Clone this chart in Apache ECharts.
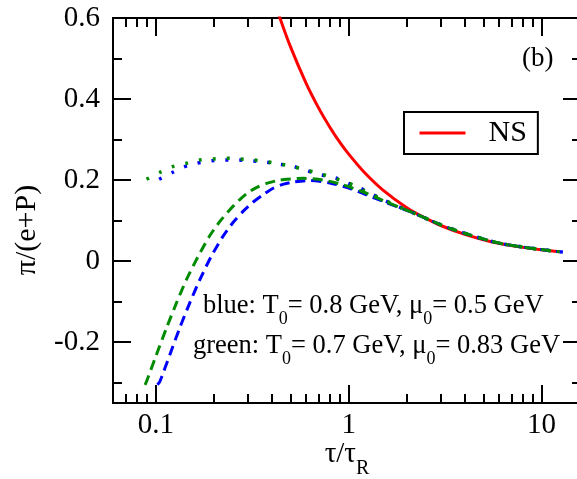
<!DOCTYPE html>
<html>
<head>
<meta charset="utf-8">
<script src="https://cdn.jsdelivr.net/npm/echarts@6/dist/echarts.min.js"></script>
<style>
  html, body { margin: 0; padding: 0; background: #fff; }
  #chart { width: 577px; height: 479px; }
</style>
</head>
<body>
<div id="chart"></div>
<script>
const FONT = '"Liberation Serif", "DejaVu Serif", "Times New Roman", serif';

// Axis ranges and ticks
const xRange = [0.06, 16];
const xMajorTicks = [0.1, 1, 10];
const xTickLabels = ['0.1', '1', '10'];
const xMinorTicks = [0.07, 0.08, 0.09, 0.2, 0.3, 0.4, 0.5, 0.6, 0.7, 0.8, 0.9, 2, 3, 4, 5, 6, 7, 8, 9];
const yRange = [-0.35, 0.6];
const yMajorTicks = [-0.2, 0, 0.2, 0.4, 0.6];
const yMinorTicks = [-0.3, -0.1, 0.1, 0.3, 0.5];

// Navier-Stokes (red)
const nsTau = [0.40, 0.44, 0.5, 0.6, 0.7, 0.8, 0.9, 1.0, 1.2, 1.5, 2.0, 2.5, 3.0, 4.0, 5.0, 6.0, 8.0, 10.0, 12.4];
const nsVal = [0.66, 0.60, 0.528, 0.44, 0.377, 0.330, 0.293, 0.264, 0.220, 0.176, 0.132, 0.106, 0.088, 0.066, 0.053, 0.044, 0.034, 0.028, 0.023];

// blue: T0 = 0.8 GeV, mu0 = 0.5 GeV
const blueDashTau = [0.102, 0.105, 0.118, 0.133, 0.150, 0.169, 0.193, 0.222, 0.252, 0.285, 0.320, 0.355, 0.406, 0.46, 0.515, 0.629, 0.798, 1.01, 1.2, 1.5, 2.16, 3.35, 6.08, 12.4];
const blueDashVal = [-0.305, -0.297, -0.232, -0.165, -0.103, -0.046, 0.010, 0.060, 0.096, 0.124, 0.146, 0.162, 0.180, 0.190, 0.195, 0.199, 0.193, 0.180, 0.166, 0.148, 0.119, 0.081, 0.044, 0.023];
const blueDotTau = [0.104, 0.121, 0.139, 0.163, 0.195, 0.228, 0.267, 0.32, 0.375, 0.44, 0.505, 0.581, 0.668, 0.766, 0.866, 1.0, 1.2, 1.5, 2.16, 3.35, 6.08, 13.6];
const blueDotVal = [0.202, 0.218, 0.232, 0.2415, 0.248, 0.2497, 0.2497, 0.247, 0.244, 0.239, 0.235, 0.2267, 0.217, 0.210, 0.2045, 0.192, 0.176, 0.152, 0.119, 0.081, 0.044, 0.021];

// green: T0 = 0.7 GeV, mu0 = 0.83 GeV
const greenDashTau = [0.088, 0.0895, 0.100, 0.1136, 0.128, 0.144, 0.165, 0.19, 0.215, 0.242, 0.27, 0.295, 0.33, 0.375, 0.42, 0.477, 0.581, 0.738, 0.938, 1.2, 1.5, 2.16, 3.35, 6.08, 12.4];
const greenDashVal = [-0.305, -0.297, -0.235, -0.165, -0.103, -0.046, 0.010, 0.062, 0.098, 0.127, 0.150, 0.166, 0.181, 0.192, 0.198, 0.202, 0.2045, 0.200, 0.188, 0.170, 0.150, 0.119, 0.081, 0.044, 0.023];
const greenDotTau = [0.0895, 0.105, 0.122, 0.144, 0.169, 0.198, 0.233, 0.273, 0.32, 0.375, 0.44, 0.515, 0.581, 0.682, 0.798, 0.9, 1.05, 1.2, 1.5, 2.16, 3.35, 6.08, 12.4];
const greenDotVal = [0.202, 0.219, 0.233, 0.2415, 0.2497, 0.252, 0.254, 0.252, 0.2497, 0.2455, 0.240, 0.233, 0.2267, 0.218, 0.2085, 0.200, 0.188, 0.174, 0.152, 0.119, 0.081, 0.044, 0.023];

const RED = '#ff0000', BLUE = '#0000ff', GREEN = '#008b00';

// log10 horizontal scale on a value axis
const lg = v => Math.log10(v);
const pairs = (xs, ys) => xs.map((x, i) => [lg(x), ys[i]]);

const AXIS_LINE = { show: true, onZero: false, lineStyle: { color: '#000', width: 2 } };

function xAxis(position, ticks, len, withLabels) {
  return {
    type: 'value', position: position,
    min: lg(xRange[0]), max: lg(xRange[1]),
    axisLine: AXIS_LINE,
    splitLine: { show: false },
    axisTick: { show: true, inside: true, length: len, customValues: ticks.map(lg), lineStyle: { color: '#000', width: 2 } },
    axisLabel: withLabels ? {
      show: true, customValues: xMajorTicks.map(lg), margin: 8,
      fontFamily: FONT, fontSize: 29, color: '#000',
      formatter: v => {
        let best = 0;
        xMajorTicks.forEach((t, i) => { if (Math.abs(lg(t) - v) < Math.abs(lg(xMajorTicks[best]) - v)) best = i; });
        return xTickLabels[best];
      }
    } : { show: false }
  };
}

function yAxis(position, ticks, len, withLabels) {
  return {
    type: 'value', position: position,
    min: yRange[0], max: yRange[1],
    axisLine: AXIS_LINE,
    splitLine: { show: false },
    axisTick: { show: true, inside: true, length: len, customValues: ticks, lineStyle: { color: '#000', width: 2 } },
    axisLabel: withLabels ? {
      show: true, customValues: yMajorTicks, margin: 13,
      fontFamily: FONT, fontSize: 29, color: '#000'
    } : { show: false }
  };
}

function curve(name, xs, ys, color, type, width, z) {
  return {
    name: name, type: 'line', xAxisIndex: 0, yAxisIndex: 0,
    data: pairs(xs, ys), symbol: 'none', showSymbol: false, smooth: 0.25,
    lineStyle: { color: color, width: width, type: type, cap: 'butt' },
    itemStyle: { color: color },
    z: z, silent: true, animation: false
  };
}

const SUB_RICH = {
  m: { fontFamily: FONT, fontSize: 26.5, verticalAlign: 'top', lineHeight: 30, fill: '#000' },
  s: { fontFamily: FONT, fontSize: 18, verticalAlign: 'top', padding: [17, 0, 0, 0], fill: '#000' }
};

const chart = echarts.init(document.getElementById('chart'), null, { renderer: 'canvas' });
chart.setOption({
  animation: false,
  backgroundColor: '#fff',
  grid: { left: 113, top: 18, width: 468, height: 385, containLabel: false, outerBoundsMode: 'none' },
  xAxis: [
    xAxis('bottom', xMajorTicks, 18, true),
    xAxis('bottom', xMinorTicks, 9, false),
    xAxis('top', xMajorTicks, 18, false),
    xAxis('top', xMinorTicks, 9, false)
  ],
  yAxis: [
    yAxis('left', yMajorTicks, 18, true),
    yAxis('left', yMinorTicks, 9, false),
    yAxis('right', yMajorTicks, 18, false),
    yAxis('right', yMinorTicks, 9, false)
  ],
  legend: {
    data: ['NS'], left: 404, top: 112,
    orient: 'horizontal',
    padding: [6, 11, 6, 14],
    borderColor: '#000', borderWidth: 2,
    itemWidth: 46, itemHeight: 14, itemGap: 0,
    lineStyle: { width: 3 },
    itemStyle: { opacity: 0 },
    textStyle: { fontFamily: FONT, fontSize: 30, color: '#000', padding: [0, 0, 0, 18] },
    selectedMode: false
  },
  series: [
    curve('NS', nsTau, nsVal, RED, 'solid', 3, 2),
    curve('blue dotted', blueDotTau, blueDotVal, BLUE, [3, 11], 3.5, 3),
    curve('blue dashed', blueDashTau, blueDashVal, BLUE, [10, 6], 3, 4),
    curve('green dashed', greenDashTau, greenDashVal, GREEN, [10, 6], 3, 5),
    curve('green dotted', greenDotTau, greenDotVal, GREEN, [3, 11], 3.5, 6)
  ],
  graphic: [
    {
      type: 'text', x: 27, y: 230, rotation: Math.PI / 2,
      style: { text: 'π/(e+P)', font: '30px ' + FONT, fill: '#000', align: 'center', verticalAlign: 'middle' }
    },
    {
      type: 'text', x: 347, y: 440,
      style: {
        text: '{m|τ/τ}{s|R}', fill: '#000', align: 'center',
        rich: {
          m: { fontFamily: FONT, fontSize: 29, verticalAlign: 'top', lineHeight: 32, fill: '#000' },
          s: { fontFamily: FONT, fontSize: 20, verticalAlign: 'top', padding: [19, 0, 0, 0], fill: '#000' }
        }
      }
    },
    {
      type: 'text', x: 522, y: 45,
      style: { text: '(b)', font: '27px ' + FONT, fill: '#000' }
    },
    {
      type: 'text', x: 203, y: 293,
      style: { text: '{m|blue: T}{s|0}{m|= 0.8 GeV, μ}{s|0}{m|= 0.5 GeV}', fill: '#000', rich: SUB_RICH }
    },
    {
      type: 'text', x: 193, y: 333,
      style: { text: '{m|green: T}{s|0}{m|= 0.7 GeV, μ}{s|0}{m|= 0.83 GeV}', fill: '#000', rich: SUB_RICH }
    }
  ]
});
</script>
</body>
</html>
